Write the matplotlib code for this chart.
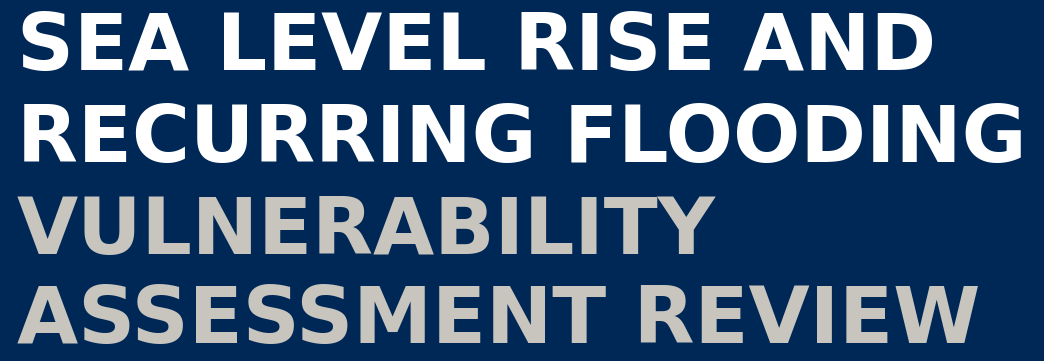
import matplotlib
matplotlib.use("Agg")
import matplotlib.pyplot as plt

BG = "#002856"
WHITE = "#ffffff"
GRAY = "#c8c5bf"

title_lines = ["SEA LEVEL RISE AND", "RECURRING FLOODING"]
subtitle_lines = ["VULNERABILITY", "ASSESSMENT REVIEW"]
# baseline of each line, px from top
baselines = [70, 162, 254, 343]

W, H = 1044, 361
fig = plt.figure(figsize=(W / 100, H / 100), dpi=100)
fig.patch.set_facecolor(BG)

lines = [(t, WHITE) for t in title_lines] + [(t, GRAY) for t in subtitle_lines]
for (txt, col), yb in zip(lines, baselines):
    fig.text(17 / W, 1 - yb / H, txt, color=col, fontsize=57, fontweight="bold",
             family="DejaVu Sans", ha="left", va="baseline")

fig.savefig("out.png", dpi=100, facecolor=BG)
